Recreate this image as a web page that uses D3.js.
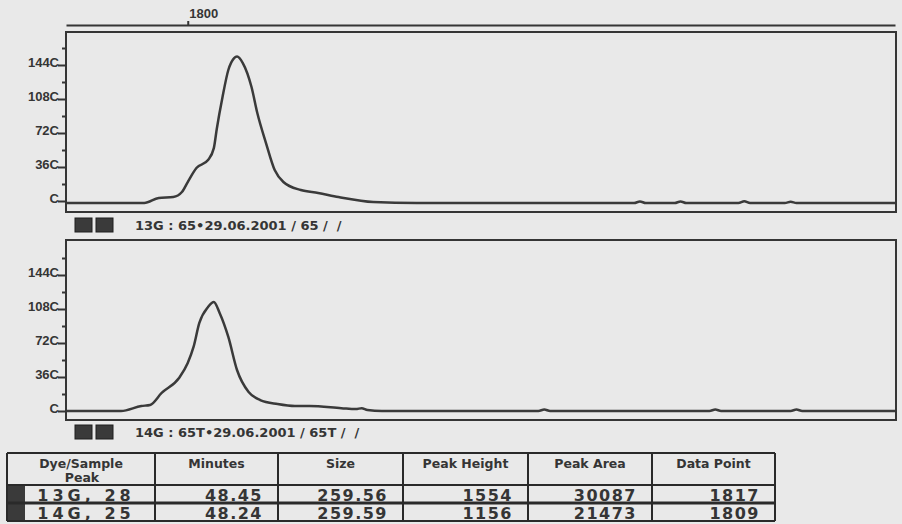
<!DOCTYPE html>
<html>
<head>
<meta charset="utf-8">
<script src="https://cdn.jsdelivr.net/npm/d3@7"></script>
<style>
    body { margin: 0; background: #e9e9e9; }
    svg { display: block; font-family: "DejaVu Sans", sans-serif; font-weight: bold; }
</style>
</head>
<body>
<svg id="chart" width="902" height="524"></svg>
<script>
// electropherogram traces, x = data point, y = signal height
const topPoints = [1758, 1785, 1790, 1795, 1798, 1800, 1803, 1807, 1809, 1810, 1812, 1814, 1816, 1817, 1819, 1822, 1824, 1827, 1830, 1833, 1839, 1845, 1852, 1864, 1879, 1954, 1956, 1958, 1968, 1970, 1972, 1990, 1992, 1994, 2006, 2008, 2010, 2044];
const topHeights = [-21, -21, 32, 42, 95, 201, 349, 434, 560, 760, 1101, 1387, 1514, 1530, 1461, 1207, 932, 614, 328, 201, 116, 85, 42, -11, -21, -21, -5, -21, -21, -5, -21, -21, -2, -21, -21, -8, -21, -21];

const bottomPoints = [1758, 1777, 1784, 1787, 1791, 1797, 1800, 1802, 1804, 1807, 1809, 1811, 1814, 1817, 1821, 1825, 1831, 1837, 1842, 1853, 1858, 1860, 1862, 1867, 1921, 1923, 1925, 1980, 1982, 1984, 2008, 2010, 2012, 2044];
const bottomHeights = [0, 0, 53, 64, 191, 350, 508, 678, 932, 1101, 1154, 1038, 784, 434, 201, 116, 74, 53, 53, 30, 20, 30, 10, 0, 0, 15, 0, 0, 15, 0, 0, 15, 0, 0];

const xTickValues = [1800];
const yTickValues = [0, 360, 720, 1080, 1440];
const yTickLabels = ["C", "36C", "72C", "108C", "144C"];
const yMinorValues = [180, 540, 900, 1260, 1620];

const sampleLabels = ["13G : 65\u202229.06.2001 / 65 /  /", "14G : 65T\u202229.06.2001 / 65T /  /"];

const tableHeaders = ["Dye/Sample", "Minutes", "Size", "Peak Height", "Peak Area", "Data Point"];
const dyeSample = ["13G, 28", "14G, 25"];
const minutes = ["48.45", "48.24"];
const sizes = ["259.56", "259.59"];
const peakHeights = ["1554", "1156"];
const peakAreas = ["30087", "21473"];
const dataPoints = ["1817", "1809"];

const INK = "#353535";
const svg = d3.select("#chart");

let x = d3.scaleLinear().domain([1758, 2044]).range([66, 895]);

// top scale
let topAxis = svg.append('g')
    .attr("transform", "translate(0,25)")
    .call(d3.axisTop(x).tickValues(xTickValues).tickSize(4).tickSizeOuter(0)
        .tickFormat(d3.format("d")));
topAxis.select('.domain').attr('stroke', INK).attr('stroke-width', 2);
topAxis.selectAll('.tick line').attr('stroke', INK).attr('stroke-width', 2);
topAxis.selectAll('.tick text')
    .attr('fill', INK)
    .attr('font-size', 13)
    .attr('text-anchor', "start")
    .attr('x', 1)
    .attr('y', -7);

let panels = [
    {top: 32, bottom: 212, zero: 201, points: topPoints, heights: topHeights, label: sampleLabels[0], labelY: 225},
    {top: 240, bottom: 420, zero: 411, points: bottomPoints, heights: bottomHeights, label: sampleLabels[1], labelY: 432}
];

panels.forEach((p, i) => {
    let y = d3.scaleLinear().domain([0, 1440]).range([p.zero, p.zero - 136]);
    let g = svg.append('g');

    svg.append('clipPath').attr('id', "clip" + i)
        .append('rect')
        .attr('x', 67).attr('y', p.top + 1)
        .attr('width', 828).attr('height', p.bottom - p.top - 2);

    g.append('rect')
        .attr('x', 66).attr('y', p.top)
        .attr('width', 830).attr('height', p.bottom - p.top)
        .attr('fill', "none")
        .attr('stroke', INK)
        .attr('stroke-width', 2);

    // major ticks with labels sitting on them
    let major = g.append('g')
        .attr("transform", "translate(66,0)")
        .call(d3.axisLeft(y).tickValues(yTickValues).tickSize(8)
            .tickFormat((d, k) => yTickLabels[k]));
    major.select('.domain').remove();
    major.selectAll('.tick line').attr('stroke', INK).attr('stroke-width', 2);
    major.selectAll('.tick text')
        .attr('fill', INK)
        .attr('font-size', 13)
        .attr('x', -7)
        .attr('dy', "0em")
        .attr('y', 1);

    let minor = g.append('g')
        .attr("transform", "translate(66,0)")
        .call(d3.axisLeft(y).tickValues(yMinorValues).tickSize(4).tickFormat(""));
    minor.select('.domain').remove();
    minor.selectAll('.tick line').attr('stroke', INK).attr('stroke-width', 2);

    let series = p.points.map((d, k) => ({point: d, height: p.heights[k]}));
    let line = d3.line()
        .x(d => x(d.point))
        .y(d => y(d.height))
        .curve(d3.curveMonotoneX);

    g.append('path')
        .datum(series)
        .attr('clip-path', "url(#clip" + i + ")")
        .attr('d', line)
        .attr('fill', "none")
        .attr('stroke', "#3a3a3a")
        .attr('stroke-width', 2.5)
        .attr('stroke-linejoin', "round");

    // dye boxes + sample name
    [75, 96].forEach(bx => {
        g.append('rect')
            .attr('x', bx).attr('y', p.labelY - 7)
            .attr('width', 17).attr('height', 14)
            .attr('fill', "#3a3a3a")
            .attr('stroke', "#1e1e1e")
            .attr('stroke-width', 1);
    });
    g.append('text')
        .attr('x', 135)
        .attr('y', p.labelY + 5)
        .attr('fill', INK)
        .attr('font-size', 13)
        .style('white-space', "pre")
        .text(p.label);
});

// results table
let colX = [7, 155, 278, 403, 528, 652, 775];
let rowY = [453, 485, 503, 521];
let table = svg.append('g');
let columns = [dyeSample, minutes, sizes, peakHeights, peakAreas, dataPoints];

tableHeaders.forEach((h, c) => {
    let cx = (colX[c] + colX[c + 1]) / 2;
    table.append('text')
        .attr('x', cx)
        .attr('y', 468)
        .attr('text-anchor', "middle")
        .attr('fill', INK)
        .attr('font-size', 12.5)
        .text(h);
});
table.append('text')
    .attr('x', 82).attr('y', 482)
    .attr('text-anchor', "middle")
    .attr('fill', INK)
    .attr('font-size', 12.5)
    .text("Peak");

dyeSample.forEach((_, r) => {
    let base = rowY[r + 1] + 15.5;
    table.append('rect')
        .attr('x', 7).attr('y', rowY[r + 1] + 1)
        .attr('width', 18).attr('height', rowY[r + 2] - rowY[r + 1] - 2)
        .attr('fill', "#3a3a3a");
    columns.forEach((col, c) => {
        let t = table.append('text')
            .attr('y', base)
            .attr('fill', INK)
            .attr('font-size', 16)
            .attr('letter-spacing', 1.5)
            .text(col[r]);
        if (c === 0) {
            t.attr('x', 86).attr('text-anchor', "middle").attr('letter-spacing', 4);
        } else {
            t.attr('x', colX[c + 1] - 15).attr('text-anchor', "end");
        }
    });
});

// grid lines
colX.forEach(cx => {
    table.append('line')
        .attr('x1', cx).attr('x2', cx)
        .attr('y1', rowY[0]).attr('y2', rowY[3])
        .attr('stroke', "#2a2a2a")
        .attr('stroke-width', 2);
});
rowY.forEach((ry, k) => {
    table.append('line')
        .attr('x1', colX[0]).attr('x2', colX[6])
        .attr('y1', ry).attr('y2', ry)
        .attr('stroke', "#2a2a2a")
        .attr('stroke-width', k === 2 ? 3 : 2);
});
</script>
</body>
</html>
